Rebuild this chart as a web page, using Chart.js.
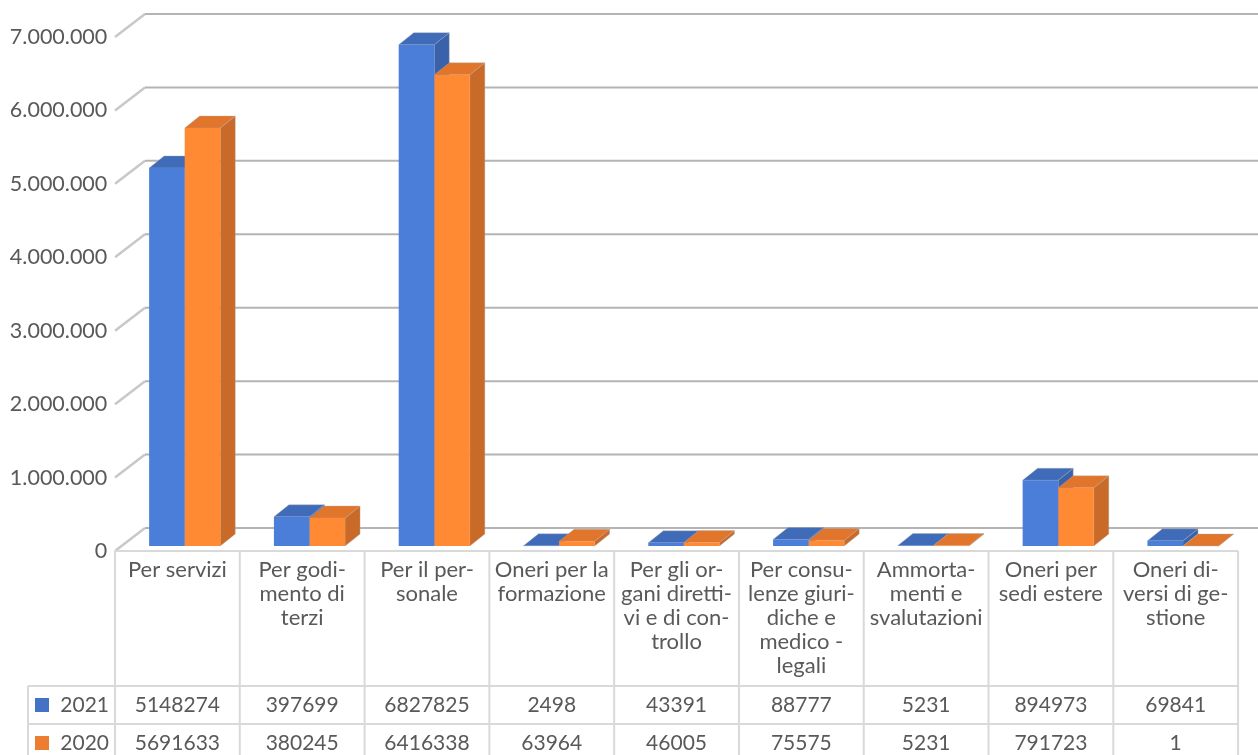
<!DOCTYPE html>
<html>
<head>
<meta charset="utf-8">
<title>Oneri 2021 - 2020</title>
<script src="https://cdn.jsdelivr.net/npm/chart.js@4"></script>
<style>
  html, body { margin: 0; padding: 0; background: #fff; overflow: hidden; }
  canvas { display: block; }
</style>
</head>
<body>
<canvas id="costChart" width="1258" height="755"></canvas>
<script>
const categories = [
  ['Per servizi'],
  ['Per godi-', 'mento di', 'terzi'],
  ['Per il per-', 'sonale'],
  ['Oneri per la', 'formazione'],
  ['Per gli or-', 'gani diretti-', 'vi e di con-', 'trollo'],
  ['Per consu-', 'lenze giuri-', 'diche e', 'medico -', 'legali'],
  ['Ammorta-', 'menti e', 'svalutazioni'],
  ['Oneri per', 'sedi estere'],
  ['Oneri di-', 'versi di ge-', 'stione']
];
const values2021 = [5148274, 397699, 6827825, 2498, 43391, 88777, 5231, 894973, 69841];
const values2020 = [5691633, 380245, 6416338, 63964, 46005, 75575, 5231, 791723, 1];
const seriesNames = ['2021', '2020'];

const FONT = 'Lato';
const TEXT = '#595959';
const TABLE_LINE = '#d9d9d9';
const LABEL_SHIFT = -7.3; // table columns sit left of the bars

// 3d look: depth of the bars and of the floor/wall
const BAR_DX = 15, BAR_DY = -12;
const WALL_FRONT = { x: -7.3, y: 5 };
const WALL_BACK = { x: 22.7, y: -18 };

const faces = [
  { top: '#3f6bb9', side: '#3a62aa' },
  { top: '#e2752c', side: '#c96a28' }
];
const swatches = ['#4472c4', '#ed7d31'];

function poly(ctx, pts, fill) {
  ctx.beginPath();
  pts.forEach((p, i) => i ? ctx.lineTo(p[0], p[1]) : ctx.moveTo(p[0], p[1]));
  ctx.closePath();
  ctx.fillStyle = fill;
  ctx.fill();
  ctx.strokeStyle = 'rgba(170,170,170,0.5)';
  ctx.lineWidth = 0.75;
  ctx.stroke();
}

const wallGrid = {
  id: 'wallGrid',
  beforeDatasetsDraw(chart) {
    const { ctx, scales: { y }, chartArea } = chart;
    ctx.save();
    y.ticks.forEach(t => {
      const py = y.getPixelForValue(t.value);
      const x0 = chartArea.left + WALL_FRONT.x, y0 = py + WALL_FRONT.y;
      const x1 = chartArea.left + WALL_BACK.x, y1 = py + WALL_BACK.y;
      ctx.strokeStyle = '#c8c8c8';
      ctx.lineWidth = 2.5;
      ctx.beginPath();
      ctx.moveTo(x0, y0);
      ctx.lineTo(x1, y1);
      ctx.stroke();
      ctx.strokeStyle = '#b4b4b4';
      ctx.lineWidth = 2;
      ctx.beginPath();
      ctx.moveTo(x1, y1);
      ctx.lineTo(chart.width, y1);
      ctx.stroke();
    });
    // depth faces go under the front faces of the bars
    chart.data.datasets.forEach((ds, i) => {
      const colors = faces[i];
      chart.getDatasetMeta(i).data.forEach(bar => {
        const l = bar.x - bar.width / 2, r = bar.x + bar.width / 2;
        const top = bar.y, base = bar.base;
        poly(ctx, [[r, top], [r + BAR_DX, top + BAR_DY], [r + BAR_DX, base + BAR_DY], [r, base]], colors.side);
        poly(ctx, [[l, top], [l + BAR_DX, top + BAR_DY], [r + BAR_DX, top + BAR_DY], [r, top]], colors.top);
      });
    });
    ctx.restore();
  }
};

const dataTable = {
  id: 'dataTable',
  afterDraw(chart) {
    const { ctx, scales: { x }, chartArea } = chart;
    const colW = chartArea.width / categories.length;
    const left = chartArea.left + LABEL_SHIFT;
    const right = left + colW * categories.length;
    const head = 551, row1 = 686, row2 = 724, row3 = 762, legendLeft = 28;
    ctx.save();
    ctx.strokeStyle = TABLE_LINE;
    ctx.lineWidth = 2;
    const line = (a, b, c, d) => { ctx.beginPath(); ctx.moveTo(a, b); ctx.lineTo(c, d); ctx.stroke(); };
    line(left, head, right, head);
    [row1, row2, row3].forEach(r => line(legendLeft, r, right, r));
    line(legendLeft, row1, legendLeft, row3);
    for (let i = 0; i <= categories.length; i++) {
      line(left + colW * i, head, left + colW * i, row3);
    }
    ctx.font = '21px ' + FONT;
    ctx.fillStyle = TEXT;
    ctx.textAlign = 'center';
    ctx.textBaseline = 'middle';
    [values2021, values2020].forEach((vals, r) => {
      const cy = r === 0 ? 705 : 743;
      vals.forEach((v, i) => ctx.fillText(String(v), x.getPixelForTick(i) + LABEL_SHIFT, cy));
      ctx.fillStyle = swatches[r];
      ctx.fillRect(35, cy - 7, 14, 14);
      ctx.fillStyle = TEXT;
      ctx.textAlign = 'right';
      ctx.fillText(seriesNames[r], 109, cy);
      ctx.textAlign = 'center';
    });
    ctx.restore();
  }
};

new Chart(document.getElementById('costChart'), {
  type: 'bar',
  data: {
    labels: categories,
    datasets: [
      { label: seriesNames[0], data: values2021, backgroundColor: '#4a7ed9' },
      { label: seriesNames[1], data: values2020, backgroundColor: '#ff8a33' }
    ]
  },
  options: {
    responsive: false,
    animation: false,
    devicePixelRatio: 1,
    layout: { padding: { top: 32, right: 12.6, left: 0, bottom: 0 } },
    datasets: { bar: { categoryPercentage: 0.57, barPercentage: 1 } },
    plugins: { legend: { display: false }, tooltip: { enabled: false } },
    scales: {
      x: {
        grid: { display: false, drawTicks: false },
        border: { display: false },
        afterFit(scale) { scale.height = 755 - 546; },
        ticks: {
          autoSkip: false,
          maxRotation: 0,
          padding: 12,
          labelOffset: LABEL_SHIFT,
          color: TEXT,
          font: { family: FONT, size: 22, lineHeight: 1.09 }
        }
      },
      y: {
        min: 0,
        max: 7000000,
        grid: { display: false, drawTicks: false },
        border: { display: false },
        afterFit(scale) { scale.width = 122.3; },
        ticks: {
          stepSize: 1000000,
          padding: 15,
          labelOffset: 5,
          color: TEXT,
          font: { family: FONT, size: 21.5 },
          callback: v => String(v).replace(/\B(?=(\d{3})+$)/g, '.')
        }
      }
    }
  },
  plugins: [wallGrid, dataTable]
});
</script>
</body>
</html>
